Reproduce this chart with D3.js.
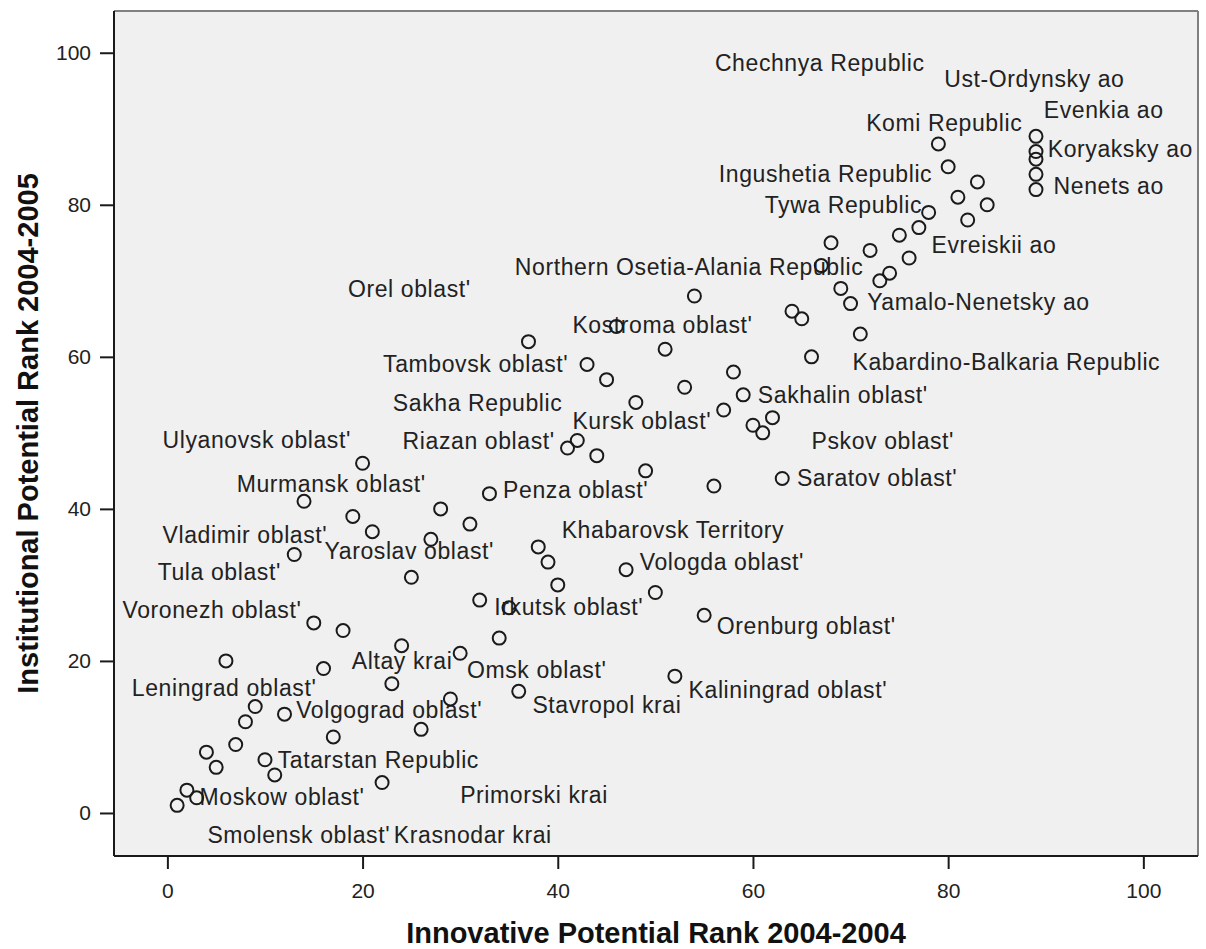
<!DOCTYPE html>
<html>
<head>
<meta charset="utf-8">
<script src="https://cdn.jsdelivr.net/npm/d3@7"></script>
<style>
  body { margin: 0; background: #fff; }
  text { font-family: "Liberation Sans", Arial, sans-serif; }
</style>
</head>
<body>
<div id="scatter"></div>
<script>
// Innovative potential rank (x) and institutional potential rank (y) per region
const innovRank = [
  1, 2, 3, 4, 5, 6, 7, 8, 9, 10, 11, 12, 13, 14, 15, 16, 17, 18, 19, 20,
  21, 22, 23, 24, 25, 26, 27, 28, 29, 30, 31, 32, 33, 34, 35, 36, 37, 38, 39, 40,
  41, 42, 43, 44, 45, 46, 47, 48, 49, 50, 51, 52, 53, 54, 55, 56, 57, 58, 59, 60,
  61, 62, 63, 64, 65, 66, 67, 68, 69, 70, 71, 72, 73, 74, 75, 76, 77, 78, 79, 80,
  81, 82, 83, 84, 89, 89, 89, 89, 89
];
const instRank = [
  1, 3, 2, 8, 6, 20, 9, 12, 14, 7, 5, 13, 34, 41, 25, 19, 10, 24, 39, 46,
  37, 4, 17, 22, 31, 11, 36, 40, 15, 21, 38, 28, 42, 23, 27, 16, 62, 35, 33, 30,
  48, 49, 59, 47, 57, 64, 32, 54, 45, 29, 61, 18, 56, 68, 26, 43, 53, 58, 55, 51,
  50, 52, 44, 66, 65, 60, 72, 75, 69, 67, 63, 74, 70, 71, 76, 73, 77, 79, 88, 85,
  81, 78, 83, 80, 89, 87, 86, 84, 82
];

// Region labels and where they sit (in data units)
const labelNames = [
  "Chechnya Republic", "Ust-Ordynsky ao", "Evenkia ao", "Komi Republic", "Koryaksky ao",
  "Ingushetia Republic", "Nenets ao", "Tywa Republic", "Evreiskii ao",
  "Northern Osetia-Alania Republic", "Orel oblast'", "Yamalo-Nenetsky ao", "Kostroma oblast'",
  "Tambovsk oblast'", "Kabardino-Balkaria Republic", "Sakha Republic", "Sakhalin oblast'",
  "Kursk oblast'", "Ulyanovsk oblast'", "Riazan oblast'", "Pskov oblast'",
  "Murmansk oblast'", "Penza oblast'", "Saratov oblast'", "Khabarovsk Territory",
  "Vladimir oblast'", "Yaroslav oblast'", "Vologda oblast'", "Tula oblast'",
  "Voronezh oblast'", "Irkutsk oblast'", "Orenburg oblast'", "Altay krai", "Omsk oblast'",
  "Leningrad oblast'", "Kaliningrad oblast'", "Stavropol krai", "Volgograd oblast'",
  "Tatarstan Republic", "Moskow oblast'", "Primorski krai", "Smolensk oblast'", "Krasnodar krai"
];
const labelX = [
  56.1, 79.6, 89.8, 71.6, 90.2,
  56.5, 90.8, 61.2, 78.3,
  35.6, 18.5, 71.7, 41.5,
  22.1, 70.2, 23.1, 60.5,
  41.5, -0.5, 24.1, 66.0,
  7.1, 34.4, 64.5, 40.4,
  -0.5, 16.1, 48.4, -1.0,
  -4.6, 33.5, 56.3, 18.9, 30.7,
  -3.65, 53.4, 37.4, 13.2,
  11.3, 3.3, 30.0, 4.1, 23.2
];
const labelY = [
  97.6, 95.5, 91.4, 89.7, 86.3,
  83.0, 81.4, 78.9, 73.6,
  70.8, 67.9, 66.1, 63.2,
  58.0, 58.3, 52.9, 53.9,
  50.5, 48.0, 47.9, 47.9,
  42.2, 41.4, 43.0, 36.2,
  35.5, 33.4, 31.9, 30.6,
  25.6, 26.0, 23.5, 19.0, 17.7,
  15.4, 15.1, 13.1, 12.5,
  5.9, 1.0, 1.3, -4.0, -3.9
];

const xTicks = [0, 20, 40, 60, 80, 100];
const yTicks = [0, 20, 40, 60, 80, 100];

const points = innovRank.map((x, i) => ({ x, y: instRank[i] }));
const labels = labelNames.map((name, i) => ({ name, x: labelX[i], y: labelY[i] }));

// Dimensions
const width = 1206;
const height = 949;
const margin = { top: 11, right: 8, bottom: 93, left: 114 };
const innerWidth = width - margin.left - margin.right;
const innerHeight = height - margin.top - margin.bottom;

const svg = d3.select("#scatter")
  .append("svg")
  .attr("width", width)
  .attr("height", height);

const innerChart = svg.append("g")
  .attr("transform", `translate(${margin.left}, ${margin.top})`);

// Scales
const xScale = d3.scaleLinear()
  .domain([-5.47, 105.6])
  .range([0, innerWidth]);

const yScale = d3.scaleLinear()
  .domain([-5.66, 105.49])
  .range([innerHeight, 0]);

// Plot background and frame (SPSS style: dark left/bottom, grey top/right)
innerChart.append("rect")
  .attr("width", innerWidth)
  .attr("height", innerHeight)
  .attr("fill", "#f0f0f0");

innerChart.append("line")
  .attr("x1", 0).attr("x2", innerWidth).attr("y1", 0).attr("y2", 0)
  .attr("stroke", "#808080").attr("stroke-width", 2);
innerChart.append("line")
  .attr("x1", innerWidth).attr("x2", innerWidth).attr("y1", 0).attr("y2", innerHeight)
  .attr("stroke", "#808080").attr("stroke-width", 2);

// Labels
innerChart.selectAll(".region-label")
  .data(labels)
  .join("text")
  .attr("class", "region-label")
  .attr("x", d => xScale(d.x))
  .attr("y", d => yScale(d.y))
  .attr("fill", "#222")
  .style("font-size", "23px")
  .style("letter-spacing", "0.6px")
  .text(d => d.name);

// Points
innerChart.selectAll(".point")
  .data(points)
  .join("circle")
  .attr("class", "point")
  .attr("cx", d => xScale(d.x))
  .attr("cy", d => yScale(d.y))
  .attr("r", 6.5)
  .attr("fill", "none")
  .attr("stroke", "#1a1a1a")
  .attr("stroke-width", 2);

// X axis
const bottomAxis = d3.axisBottom(xScale)
  .tickValues(xTicks)
  .tickSize(13)
  .tickPadding(14);
const xAxis = innerChart.append("g")
  .attr("transform", `translate(0, ${innerHeight})`)
  .call(bottomAxis);
xAxis.select(".domain").remove();
xAxis.selectAll("line").attr("stroke", "#1a1a1a").attr("stroke-width", 2);
xAxis.selectAll("text")
  .attr("fill", "#222")
  .style("font-size", "21px")
  .style("font-family", "'Liberation Sans', Arial, sans-serif");

// Y axis
const leftAxis = d3.axisLeft(yScale)
  .tickValues(yTicks)
  .tickSize(14)
  .tickPadding(9);
const yAxis = innerChart.append("g")
  .call(leftAxis);
yAxis.select(".domain").remove();
yAxis.selectAll("line").attr("stroke", "#1a1a1a").attr("stroke-width", 2);
yAxis.selectAll("text")
  .attr("fill", "#222")
  .style("font-size", "21px")
  .style("font-family", "'Liberation Sans', Arial, sans-serif");

// Dark left and bottom frame edges
innerChart.append("line")
  .attr("x1", 0).attr("x2", 0).attr("y1", 0).attr("y2", innerHeight)
  .attr("stroke", "#1a1a1a").attr("stroke-width", 2);
innerChart.append("line")
  .attr("x1", 0).attr("x2", innerWidth).attr("y1", innerHeight).attr("y2", innerHeight)
  .attr("stroke", "#1a1a1a").attr("stroke-width", 2);

// X axis label
svg.append("text")
  .text("Innovative Potential Rank 2004-2004")
  .attr("x", margin.left + innerWidth / 2)
  .attr("y", 943)
  .attr("text-anchor", "middle")
  .attr("fill", "#111")
  .style("font-size", "29px")
  .style("font-weight", "bold");

// Y axis label
svg.append("text")
  .text("Institutional Potential Rank 2004-2005")
  .attr("x", -(margin.top + innerHeight / 2))
  .attr("y", 38)
  .attr("transform", "rotate(-90)")
  .attr("text-anchor", "middle")
  .attr("fill", "#111")
  .style("font-size", "29px")
  .style("font-weight", "bold");
</script>
</body>
</html>
